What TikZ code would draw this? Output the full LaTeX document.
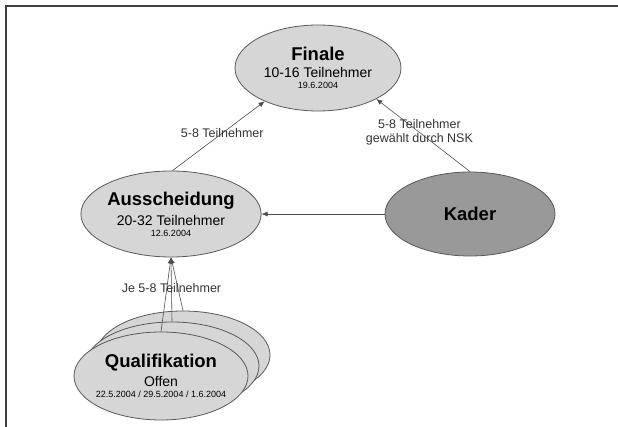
\documentclass[tikz,border=0pt]{standalone}
\usepackage{fontspec}
\setmainfont{Liberation Sans}
\usetikzlibrary{shapes.geometric,arrows.meta}

\newcommand{\stagetitle}{\fontsize{18.5}{20}\bfseries\selectfont}
\newcommand{\stagesub}{\fontsize{14}{16}\mdseries\selectfont}
\newcommand{\stagedate}{\fontsize{9}{10}\selectfont}

\tikzset{
    stage/.style={ellipse, draw=black!65, fill=black!16, line width=0.8pt,
        inner sep=0pt, minimum width=166pt, minimum height=86pt, align=center},
    flow/.style={draw=black!70, line width=0.6pt, -{Latex[length=6pt,width=5pt]}},
    flowlabel/.style={font=\fontsize{12.5}{14}\selectfont, align=center, text=black!80},
}

\begin{document}
\begin{tikzpicture}[x=1pt, y=-1pt]
    \useasboundingbox (0,0) rectangle (618,427);

    % Frame (top and left only)
    \draw[line width=1.6pt, black!75] (6,427) -- (6,6) -- (618,6);

    % Finale
    \node[stage] (finale) at (318,68)
        {\stagetitle Finale\\[5pt] \stagesub 10-16 Teilnehmer\\[-1pt] \stagedate 19.6.2004};

    % Ausscheidung
    \node[stage, minimum width=170pt] (aus) at (171,214)
        {\stagetitle Ausscheidung\\[5pt] \stagesub 20-32 Teilnehmer\\[-1pt] \stagedate 12.6.2004};

    % Kader
    \node[stage, fill=black!40, minimum width=170pt, minimum height=84pt] (kader) at (470,214)
        {\stagetitle Kader};

    % Qualifikation (three stacked rounds, back to front)
    \node[stage, minimum width=174pt, minimum height=88pt] (qual3) at (183,355) {};
    \node[stage, minimum width=174pt, minimum height=88pt] (qual2) at (172,366) {};
    \node[stage, minimum width=174pt, minimum height=88pt, inner xsep=-12pt] (qual1) at (161,376)
        {\stagetitle Qualifikation\\[4pt] \stagesub Offen\\[-1pt] \stagedate 22.5.2004 / 29.5.2004 / 1.6.2004};

    % Connectors
    \draw[flow] (aus.88) -- node[flowlabel, pos=0.54] {5-8 Teilnehmer} (finale.212);
    \draw[flow] (kader.north) -- node[flowlabel, pos=0.54]
        {5-8 Teilnehmer\\gewählt durch NSK} (finale.332);
    \draw[flow] (kader.west) -- (aus.east);
    \draw[flow] (qual3.north) -- (aus.south);
    \draw[flow] (qual1.north) -- (aus.south);
    \draw[flow] (qual2.north) -- node[flowlabel, pos=0.52] {Je 5-8 Teilnehmer} (aus.south);
\end{tikzpicture}
\end{document}
